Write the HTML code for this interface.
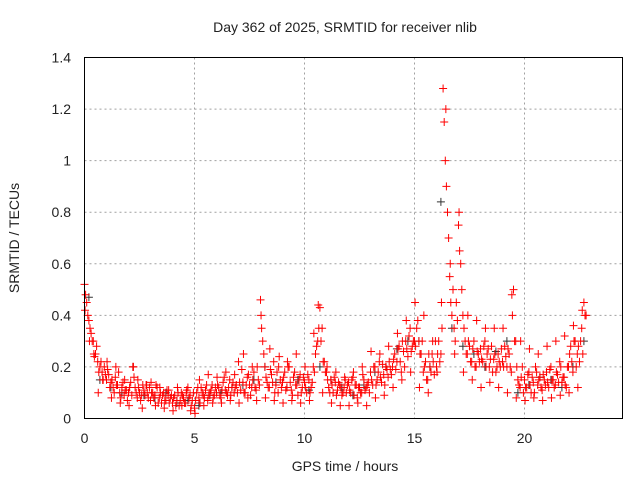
<!DOCTYPE html>
<html><head><meta charset="utf-8"><style>
body{margin:0;background:#fff}
svg{display:block;font-family:"Liberation Sans",sans-serif;font-size:14px}
</style></head><body>
<svg id="chart" width="640" height="480">
<text x="345" y="32" text-anchor="middle" fill="#222">Day 362 of 2025, SRMTID for receiver nlib</text>
<text x="345" y="471" text-anchor="middle" fill="#222">GPS time / hours</text>
<text transform="translate(19,238) rotate(-90)" text-anchor="middle" fill="#222">SRMTID / TECUs</text>
<g id="grid"></g><g id="ticks"></g><g id="marks"></g>
<rect x="84.5" y="57.5" width="538" height="361" fill="none" stroke="#000"/>
</svg>
<script>
const xTicks=[0,5,10,15,20];
const yTicks=[0,0.2,0.4,0.6,0.8,1,1.2,1.4];
const yTickLabels=["0","0.2","0.4","0.6","0.8","1","1.2","1.4"];
const stepA=0.1, startA=0;
const seriesA=[.52,.45,.38,.33,.3,.25,.22,.2,.18,.2,
.15,.17,.14,.12,.16,.13,.1,.12,.09,.11,
.1,.14,.2,.12,.08,.1,.09,.11,.13,.08,
.07,.1,.09,.12,.08,.06,.1,.07,.09,.08,
.06,.09,.07,.05,.1,.08,.06,.12,.09,.07,
.04,.1,.08,.12,.09,.11,.07,.1,.13,.09,
.1,.12,.08,.14,.11,.09,.15,.12,.1,.13,
.22,.11,.14,.1,.16,.13,.12,.18,.11,.15,
.46,.3,.2,.14,.12,.17,.22,.13,.1,.15,
.14,.18,.12,.2,.11,.16,.13,.09,.17,.12,
.14,.1,.15,.12,.2,.25,.3,.43,.35,.22,
.18,.12,.15,.1,.14,.11,.13,.09,.12,.1,
.14,.1,.16,.13,.08,.12,.1,.15,.12,.14,
.18,.13,.2,.15,.22,.14,.17,.2,.16,.19,
.2,.25,.22,.28,.18,.26,.3,.24,.35,.28,
.3,.35,.3,.25,.18,.22,.15,.2,.25,.17,
.2,.3,.25,1.28,1.0,.8,.55,.4,.35,.45,
.75,.6,.4,.3,.25,.28,.22,.3,.2,.25,
.27,.22,.3,.25,.2,.28,.23,.18,.25,.2,
.22,.28,.2,.25,.18,.5,.3,.15,.12,.2,
.15,.12,.18,.1,.14,.2,.13,.16,.11,.15,
.18,.12,.2,.15,.13,.17,.22,.14,.16,.12,
.2,.28,.18,.3,.25,.22,.35,.45,.4];
const stepB=0.1, startB=0.05;
const seriesB=[.48,.4,.35,.3,.24,.28,.18,.22,.15,.17,
.19,.12,.15,.1,.13,.18,.08,.14,.11,.07,
.12,.09,.16,.1,.12,.07,.13,.09,.1,.12,
.1,.08,.13,.06,.1,.09,.07,.11,.06,.09,
.08,.05,.1,.07,.09,.06,.11,.08,.05,.1,
.07,.12,.06,.1,.08,.13,.09,.11,.08,.12,
.13,.09,.11,.16,.1,.12,.09,.14,.12,.1,
.14,.19,.1,.13,.17,.09,.15,.12,.2,.13,
.35,.25,.16,.12,.19,.14,.1,.18,.24,.12,
.16,.11,.2,.14,.09,.18,.13,.15,.1,.16,
.12,.17,.1,.14,.18,.28,.35,.3,.22,.18,
.15,.1,.13,.16,.09,.14,.12,.1,.15,.13,
.11,.15,.09,.13,.12,.1,.17,.11,.13,.1,
.15,.2,.13,.18,.16,.21,.13,.19,.22,.17,
.23,.19,.27,.22,.3,.2,.27,.32,.26,.3,
.28,.38,.25,.3,.2,.15,.25,.18,.22,.3,
.25,.22,.35,1.15,.9,.7,.45,.5,.3,.38,
.65,.5,.35,.25,.3,.22,.27,.2,.26,.22,
.23,.28,.2,.27,.23,.18,.25,.2,.22,.27,
.2,.24,.27,.2,.4,.3,.2,.13,.16,.1,
.12,.17,.13,.16,.1,.18,.15,.12,.17,.13,
.14,.19,.15,.12,.18,.14,.2,.16,.13,.2,
.25,.22,.3,.2,.28,.3,.25,.4];
const stepC=0.2, startC=0.025;
const seriesC=[.42,.3,.25,.1,.15,
.22,.08,.2,.06,.15,
.05,.2,.15,.04,.13,
.14,.05,.12,.04,.11,
.03,.12,.05,.1,.03,
.02,.15,.05,.17,.06,
.16,.06,.18,.07,.17,
.06,.25,.08,.2,.07,
.4,.08,.27,.07,.2,
.06,.22,.07,.25,.06,
.2,.07,.33,.44,.1,
.2,.06,.18,.05,.16,
.05,.18,.06,.2,.05,
.26,.08,.25,.09,.28,
.12,.33,.15,.38,.18,
.45,.12,.4,.1,.3,
.18,.45,1.2,.6,.25,
.8,.18,.4,.15,.38,
.12,.35,.14,.35,.12,
.35,.1,.48,.08,.3,
.07,.27,.08,.25,.07,
.28,.08,.3,.09,.32,
.1,.36,.12,.42];
const stepK=0.5, startK=0.2;
const seriesBlack=[.47,.15,.12,.1,.2,.09,.08,.1,.06,.07,.05,.09,.1,.12,.13,.15,.2,.14,.12,.15,.11,.2,.15,.12,.09,.13,.18,.2,.27,.3,.3,.2,.84,.35,.28,.25,.2,.26,.3,.1,.13,.16,.15,.12,.2,.3];
const X=v=>84.5+v*22, Y=v=>418.5-v*(361/1.4);
const NS='http://www.w3.org/2000/svg';
const g=document.getElementById('grid'),t=document.getElementById('ticks'),m=document.getElementById('marks');
function mk(tag,attrs,parent){const e=document.createElementNS(NS,tag);for(const k in attrs)e.setAttribute(k,attrs[k]);parent.appendChild(e);return e;}
xTicks.forEach(v=>{
 if(v>0){const l=mk('line',{x1:X(v),x2:X(v),y1:57.5,y2:418.5,stroke:'#a0a0a0','stroke-dasharray':'2,3'},g);
 
 }
 const tx=mk('text',{x:X(v),y:443,'text-anchor':'middle',fill:'#222'},t);tx.textContent=v;
 
 
});
yTicks.forEach((v,i)=>{
 if(v>0&&v<1.4){const l=mk('line',{x1:84.5,x2:622.5,y1:Y(v),y2:Y(v),stroke:'#a0a0a0','stroke-dasharray':'2,3'},g);
 
 }
 const tx=mk('text',{x:71,y:Y(v)+5,'text-anchor':'end',fill:'#222'},t);tx.textContent=yTickLabels[i];
 
 
});
function plus(v,h,color,name){
 const x=X(h),y=Y(v);
 const p=mk('path',{d:`M${x-4},${y}H${x+4}M${x},${y-4}V${y+4}`,stroke:color,'stroke-width':1,fill:'none'},m);
 
 
}
seriesBlack.forEach((v,i)=>plus(v,startK+i*stepK,'#333','black-point'));
seriesA.forEach((v,i)=>plus(v,startA+i*stepA,'#f00','red-point'));
seriesB.forEach((v,i)=>plus(v,startB+i*stepB,'#f00','red-point'));
seriesC.forEach((v,i)=>plus(v,startC+i*stepC,'#f00','red-point'));
</script>
</body></html>
